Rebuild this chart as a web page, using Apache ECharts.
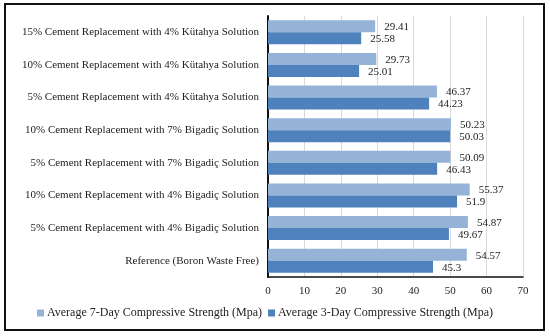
<!DOCTYPE html>
<html><head><meta charset="utf-8">
<script src="https://cdn.jsdelivr.net/npm/echarts@6/dist/echarts.min.js"></script>
<style>html,body{margin:0;padding:0;background:#fff}#frame{position:absolute;left:4px;top:3px;width:537px;height:324px;border:2px solid #111;box-sizing:content-box}#c{width:550px;height:336px;position:absolute;left:0;top:0}</style>
</head><body><div id="frame"></div><div id="c"></div>
<script>
const categories = [
  'Reference (Boron Waste Free)',
  '5% Cement Replacement with 4% Bigadiç Solution',
  '10% Cement Replacement with 4% Bigadiç Solution',
  '5% Cement Replacement with 7% Bigadiç Solution',
  '10% Cement Replacement with 7% Bigadiç Solution',
  '5% Cement Replacement with 4% Kütahya Solution',
  '10% Cement Replacement with 4% Kütahya Solution',
  '15% Cement Replacement with 4% Kütahya Solution'
];
const day7 = [54.57, 54.87, 55.37, 50.09, 50.23, 46.37, 29.73, 29.41];
const day3 = [45.3, 49.67, 51.9, 46.43, 50.03, 44.23, 25.01, 25.58];
const seriesNames = ['Average 7-Day Compressive Strength (Mpa)', 'Average 3-Day Compressive Strength (Mpa)'];
const xTicks = [0, 70, 10];

const font = 'Liberation Serif';
const chart = echarts.init(document.getElementById('c'));
chart.setOption({
  animation: false,
  textStyle: { fontFamily: font },
  grid: { left: 268, right: 27, top: 16, bottom: 59, containLabel: false },
  legend: {
    data: [seriesNames[0], seriesNames[1]],
    bottom: 12, left: 32,
    itemWidth: 7, itemHeight: 7, itemGap: 6,
    icon: 'rect',
    textStyle: { fontFamily: font, fontSize: 12, color: '#222', padding: [0, 0, 0, -2] }
  },
  xAxis: {
    type: 'value', min: xTicks[0], max: xTicks[1], interval: xTicks[2],
    axisLine: { show: true, lineStyle: { color: '#111', width: 1.5 } }, axisTick: { show: false },
    splitLine: { lineStyle: { color: '#d9d9d9', width: 1 } },
    axisLabel: { fontFamily: font, fontSize: 11, color: '#222', margin: 9 }
  },
  yAxis: {
    type: 'category', data: categories,
    axisLine: { show: true, lineStyle: { color: '#111', width: 2 } },
    axisTick: { show: false },
    axisLabel: { fontFamily: font, fontSize: 11, color: '#222', margin: 9 }
  },
  series: [
    {
      name: seriesNames[0], type: 'bar', data: day7, barWidth: 12, barGap: '0%', barCategoryGap: '26%',
      itemStyle: { color: '#95b3d7' },
      label: { show: true, position: 'right', distance: 9, fontFamily: font, fontSize: 11, color: '#222', offset: [0, 1] }
    },
    {
      name: seriesNames[1], type: 'bar', data: day3, barWidth: 12, barGap: '0%',
      itemStyle: { color: '#4f81bd' },
      label: { show: true, position: 'right', distance: 9, fontFamily: font, fontSize: 11, color: '#222', offset: [0, 1] }
    }
  ]
});
</script>
</body></html>
